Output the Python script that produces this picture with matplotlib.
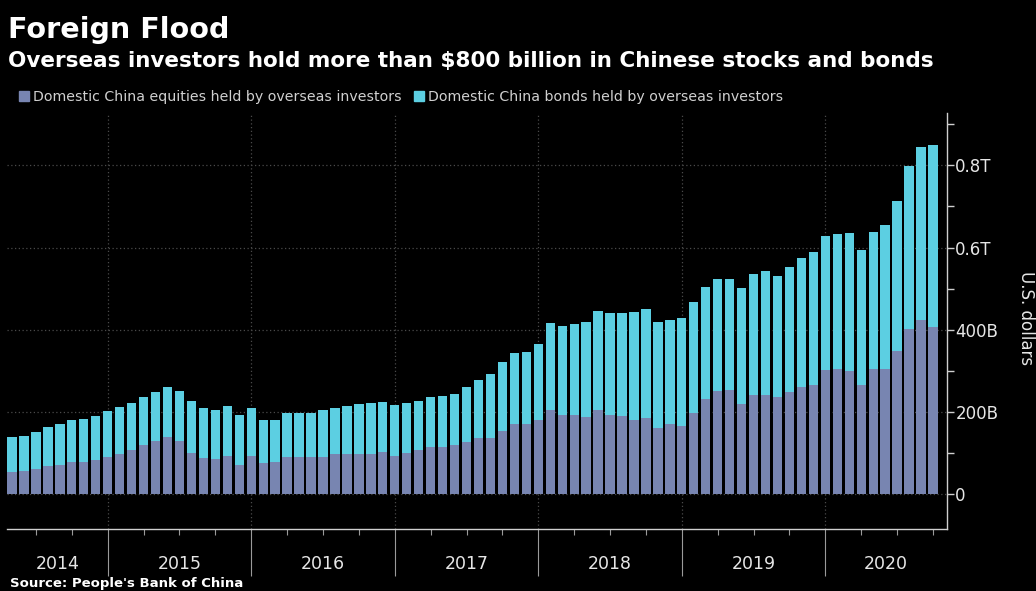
import numpy as np
import pandas as pd
from matplotlib import pyplot as plt
from matplotlib.patches import Patch
import matplotlib.transforms as mtransforms

# ----- DATA (USD billions, monthly Apr 2014 - Sep 2020) ----- #

months = pd.period_range('2014-04', '2020-09', freq='M')

equities = [54, 57, 61, 70, 72, 78, 79, 83, 91, 99, 108, 119, 130, 139, 129, 100,
            88, 86, 94, 72, 93, 77, 79, 90, 91, 91, 92, 98, 99, 99, 99, 103,
            94, 100, 107, 115, 116, 119, 127, 137, 138, 154, 171, 171, 181, 204,
            193, 193, 189, 206, 194, 190, 180, 186, 162, 171, 166, 198, 233, 252,
            254, 220, 242, 242, 236, 249, 262, 265, 303, 305, 300, 266, 304, 306,
            348, 403, 424, 406]

totals = [139, 143, 152, 164, 171, 181, 184, 190, 202, 213, 222, 237, 250, 260, 251, 228,
          211, 205, 215, 194, 211, 180, 180, 197, 199, 199, 205, 210, 215, 220, 222, 224,
          218, 222, 228, 236, 239, 244, 261, 277, 292, 322, 343, 345, 365, 417,
          409, 415, 420, 446, 442, 442, 444, 451, 419, 425, 428, 468, 503, 524,
          524, 502, 535, 544, 530, 553, 575, 589, 627, 633, 636, 594, 639, 655,
          712, 799, 845, 850]

bonds = np.subtract(totals, equities)

eq_label = 'Domestic China equities held by overseas investors'
bd_label = 'Domestic China bonds held by overseas investors'
eq_color = '#7885b1'
bd_color = '#5ccfe2'
txt_color = '#e6e6e6'

# ----- PLOT ----- #

x = np.arange(len(months))
years = sorted(set(months.year))
year_ends = x[months.month == 12]
quarters = x[months.month % 3 == 0]

fig = plt.figure(figsize=(10.36, 5.91), dpi=100, facecolor='black')
ax = fig.add_axes([7/1036, 1 - 529/591, 940/1036, 416/591], facecolor='black')

ax.bar(x, equities, width=0.78, color=eq_color, zorder=3)
ax.bar(x, bonds, width=0.78, bottom=equities, color=bd_color, zorder=3)

ax.set_xlim(-0.42, len(x) - 1 + 1.17)
ax.set_ylim(-84, 927)

# y axis on the right
ax.yaxis.tick_right()
ax.set_yticks([0, 200, 400, 600, 800])
ax.set_yticklabels(['0', '200B', '400B', '0.6T', '0.8T'])
ax.set_yticks(np.arange(100, 927, 200), minor=True)
ax.tick_params(axis='y', which='both', colors='#cfcfcf', labelcolor=txt_color,
               labelsize=12, length=5, width=1, pad=1)
ax.grid(axis='y', which='major', color='#4a4a4a', linestyle=(0, (1, 2)), linewidth=0.9, zorder=0)

# x axis: year boundaries as long ticks, quarters as short ones
ax.set_xticks(year_ends)
ax.set_xticklabels([])
ax.set_xticks(quarters, minor=True)
ax.tick_params(axis='x', which='major', length=34, width=0.8, color='#9a9a9a')
ax.tick_params(axis='x', which='minor', length=4, width=0.8, color='#9a9a9a')
for xe in year_ends:
    ax.axvline(xe, color='#4a4a4a', linestyle=(0, (1, 2)), linewidth=0.9, zorder=0)

lo, hi = ax.get_xlim()
edges = [lo] + list(year_ends) + [hi]
trans = mtransforms.blended_transform_factory(ax.transData, ax.transAxes)
for i, yr in enumerate(years):
    ax.text((edges[i] + edges[i + 1]) / 2, -0.083, str(yr), transform=trans,
            ha='center', va='center', color=txt_color, fontsize=12.5)

for s in ['left', 'top']:
    ax.spines[s].set_visible(False)
for s in ['right', 'bottom']:
    ax.spines[s].set_color('#cfcfcf')
    ax.spines[s].set_linewidth(1)

# titles, legend, labels
fig.text(8/1036, 1 - 30/591, 'Foreign Flood', color='white', fontsize=20.6,
         fontweight='bold', va='center', ha='left')
fig.text(8/1036, 1 - 61/591,
         'Overseas investors hold more than $800 billion in Chinese stocks and bonds',
         color='white', fontsize=15.5, fontweight='bold', va='center', ha='left')

handles = [Patch(color=eq_color, label=eq_label), Patch(color=bd_color, label=bd_label)]
leg = fig.legend(handles=handles, loc='center left', bbox_to_anchor=(6/1036, 1 - 97/591),
                 ncol=2, frameon=False, fontsize=10.2, handlelength=0.7, handleheight=0.7,
                 handletextpad=0.3, columnspacing=0.9, labelcolor='#d0d0d0')

fig.text(1017/1036, 1 - 318/591, 'U.S. dollars', color=txt_color, fontsize=12,
         rotation=270, va='center', ha='left')

fig.text(10/1036, 1 - 584/591, "Source: People's Bank of China", color='white',
         fontsize=9.5, fontweight='bold', va='center', ha='left')

plt.savefig('out.png', dpi=100, facecolor='black')
